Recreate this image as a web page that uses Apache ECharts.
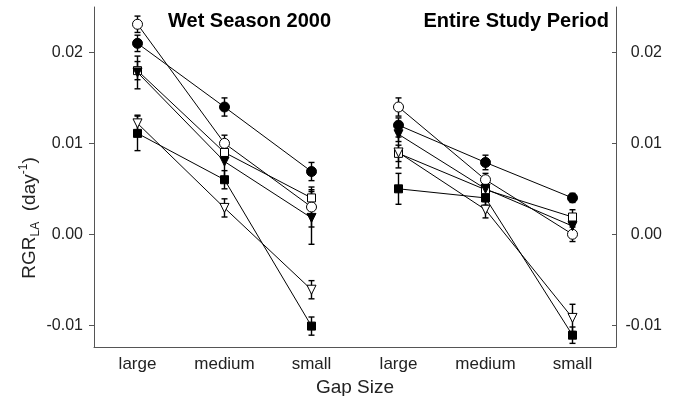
<!DOCTYPE html>
<html>
<head>
<meta charset="utf-8">
<script src="https://cdn.jsdelivr.net/npm/echarts@6/dist/echarts.min.js"></script>
<style>
  html, body { margin: 0; padding: 0; background: #fff; }
  #chart { width: 675px; height: 396px; }
</style>
</head>
<body>
<div id="chart"></div>
<script>
// panels and x categories
const panels = ['Wet Season 2000', 'Entire Study Period'];
const gapSizes = ['large', 'medium', 'small'];
const yTicks = [-0.01, 0, 0.01, 0.02];

// mean RGR_LA, order: large, medium, small
const openCircleWet = [0.0231, 0.0100, 0.0030];
const openCircleAll = [0.0140, 0.0060, 0.0000];
const filledCircleWet = [0.0210, 0.0140, 0.0069];
const filledCircleAll = [0.0120, 0.0079, 0.0040];
const openSquareWet = [0.0180, 0.0090, 0.0040];
const openSquareAll = [0.0089, 0.0049, 0.0019];
const filledTriWet = [0.0178, 0.0080, 0.0018];
const filledTriAll = [0.0110, 0.0050, 0.0009];
const openTriWet = [0.0122, 0.0029, -0.0061];
const openTriAll = [0.0090, 0.0027, -0.0092];
const filledSquareWet = [0.0111, 0.0060, -0.0101];
const filledSquareAll = [0.0050, 0.0040, -0.0111];

// standard errors (same order)
const openCircleWetSE = [0.0009, 0.0009, 0.0022];
const openCircleAllSE = [0.0010, 0.0007, 0.0008];
const filledCircleWetSE = [0.0009, 0.0010, 0.0010];
const filledCircleAllSE = [0.0008, 0.0008, 0.0005];
const openSquareWetSE = [0.0010, 0.0007, 0.0009];
const openSquareAllSE = [0.0009, 0.0006, 0.0008];
const filledTriWetSE = [0.0018, 0.0020, 0.0029];
const filledTriAllSE = [0.0008, 0.0006, 0.0006];
const openTriWetSE = [0.0009, 0.0010, 0.0010];
const openTriAllSE = [0.0017, 0.0009, 0.0015];
const filledSquareWetSE = [0.0019, 0.0010, 0.0010];
const filledSquareAllSE = [0.0017, 0.0008, 0.0009];

const groups = [
  { wet: openCircleWet, all: openCircleAll, wetSE: openCircleWetSE, allSE: openCircleAllSE, symbol: 'circle', filled: false, size: 10 },
  { wet: filledCircleWet, all: filledCircleAll, wetSE: filledCircleWetSE, allSE: filledCircleAllSE, symbol: 'circle', filled: true, size: 10 },
  { wet: openSquareWet, all: openSquareAll, wetSE: openSquareWetSE, allSE: openSquareAllSE, symbol: 'rect', filled: false, size: 8 },
  { wet: filledTriWet, all: filledTriAll, wetSE: filledTriWetSE, allSE: filledTriAllSE, symbol: 'triangle', filled: true, size: 9, rotate: 180 },
  { wet: openTriWet, all: openTriAll, wetSE: openTriWetSE, allSE: openTriAllSE, symbol: 'triangle', filled: false, size: 9, rotate: 180 },
  { wet: filledSquareWet, all: filledSquareAll, wetSE: filledSquareWetSE, allSE: filledSquareAllSE, symbol: 'rect', filled: true, size: 8 }
];

// 6 slots on the x axis: first three for the wet season, last three for the whole period
const xCats = panels.flatMap((p, pi) => gapSizes.map(g => pi + ':' + g));

const series = [];
const errData = [];
groups.forEach(g => {
  [[g.wet, g.wetSE, 0], [g.all, g.allSE, 3]].forEach(([means, se, off]) => {
    series.push({
      type: 'line',
      data: means.map((v, i) => [off + i, v]),
      symbol: g.symbol,
      symbolSize: g.size,
      symbolRotate: g.rotate || 0,
      showAllSymbol: true,
      lineStyle: { color: '#000', width: 1 },
      itemStyle: { color: g.filled ? '#000' : '#fff', borderColor: '#000', borderWidth: 1 },
      z: 3,
      animation: false
    });
    means.forEach((v, i) => errData.push([off + i, v - se[i], v + se[i]]));
  });
});

series.unshift({
  type: 'custom',
  data: errData,
  encode: { x: 0, y: [1, 2] },
  z: 2,
  animation: false,
  renderItem: (params, api) => {
    const top = api.coord([api.value(0), api.value(2)]);
    const bot = api.coord([api.value(0), api.value(1)]);
    const w = 3;
    const st = { stroke: '#000', lineWidth: 1.4 };
    return {
      type: 'group',
      children: [
        { type: 'line', shape: { x1: top[0], y1: top[1], x2: bot[0], y2: bot[1] }, style: st },
        { type: 'line', shape: { x1: top[0] - w, y1: top[1], x2: top[0] + w, y2: top[1] }, style: st },
        { type: 'line', shape: { x1: bot[0] - w, y1: bot[1], x2: bot[0] + w, y2: bot[1] }, style: st }
      ]
    };
  }
});

const font = 'Arial, Liberation Sans, sans-serif';
const axisColor = '#555';
const labelFont = { color: '#222', fontFamily: font, fontSize: 16 };

const yCommon = {
  type: 'value',
  min: -0.0124,
  max: 0.025,
  splitLine: { show: false },
  axisLine: { show: true, lineStyle: { color: axisColor, width: 1 } }
};

const chart = echarts.init(document.getElementById('chart'), null, { renderer: 'canvas' });
chart.setOption({
  animation: false,
  backgroundColor: '#fff',
  title: [
    { text: panels[0], left: 163, top: 6, textStyle: { fontSize: 20, fontWeight: 'bold', color: '#000', fontFamily: font } },
    { text: panels[1], right: 61, top: 6, textStyle: { fontSize: 20, fontWeight: 'bold', color: '#000', fontFamily: font } }
  ],
  grid: { left: 94, right: 59, top: 7, bottom: 49, outerBoundsMode: 'none', containLabel: false },
  xAxis: {
    type: 'category',
    data: xCats,
    boundaryGap: true,
    axisLine: { onZero: false, lineStyle: { color: axisColor, width: 1 } },
    axisTick: { alignWithLabel: true, length: 4, lineStyle: { color: axisColor } },
    axisLabel: Object.assign({ margin: 9, formatter: (v, i) => gapSizes[i % 3] }, labelFont, { fontSize: 17 }),
    name: 'Gap Size',
    nameLocation: 'middle',
    nameGap: 27,
    nameTextStyle: { color: '#222', fontSize: 19, fontFamily: font }
  },
  yAxis: [
    Object.assign({}, yCommon, {
      position: 'left',
      axisTick: { show: true, length: 5, lineStyle: { color: axisColor }, customValues: yTicks },
      axisLabel: Object.assign({ margin: 11, customValues: yTicks, formatter: v => v.toFixed(2) }, labelFont)
    }),
    Object.assign({}, yCommon, {
      position: 'right',
      axisTick: { show: true, inside: true, length: 4, lineStyle: { color: axisColor }, customValues: yTicks },
      axisLabel: Object.assign({ margin: 46, align: 'right', customValues: yTicks, formatter: v => v.toFixed(2) }, labelFont)
    })
  ],
  graphic: [{
    type: 'text',
    x: 30,
    y: 218,
    rotation: Math.PI / 2,
    style: {
      text: '{a|RGR}{s|LA}{a|  (day}{p|-1}{a|)}',
      align: 'center',
      verticalAlign: 'middle',
      fill: '#222',
      rich: {
        a: { fontSize: 19, lineHeight: 24, fontFamily: font, fill: '#222' },
        s: { fontSize: 12, lineHeight: 12, verticalAlign: 'bottom', fontFamily: font, fill: '#222' },
        p: { fontSize: 12, lineHeight: 12, verticalAlign: 'top', fontFamily: font, fill: '#222' }
      }
    }
  }],
  series: series
});
</script>
</body>
</html>
